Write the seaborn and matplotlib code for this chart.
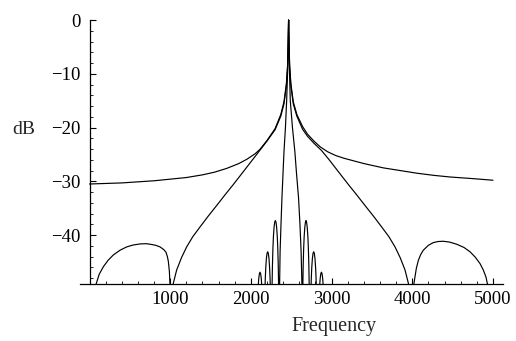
import numpy as np
import pandas as pd
import matplotlib
matplotlib.use("Agg")
import matplotlib.pyplot as plt
from matplotlib.ticker import FixedLocator
import seaborn as sns

# Broad resonance: flat skirts near -30 dB, sharp peak
freq_wide = [0, 200, 400, 600, 800, 1000, 1200, 1400, 1550, 1700, 1850, 1950,
             2050, 2110, 2200, 2300, 2370, 2410, 2440, 2455, 2462, 2467, 2472,
             2480, 2495, 2525, 2570, 2640, 2700, 2780, 2860, 2950, 3050, 3150,
             3250, 3400, 3640, 3850, 4060, 4270, 4470, 4750, 5000]
db_wide = [-30.5, -30.4, -30.3, -30.1, -29.9, -29.6, -29.3, -28.8, -28.3, -27.6,
           -26.7, -25.9, -24.9, -24.1, -22.4, -20.2, -17.6, -15.2, -11.8, -8.3,
           -4.2, 0.0, -4.2, -8.3, -11.8, -15.2, -17.6, -19.8, -21.2, -22.5, -23.6,
           -24.5, -25.2, -25.7, -26.1, -26.7, -27.5, -28.0, -28.5, -28.9, -29.2,
           -29.5, -29.8]

# Medium response: nulls near 1000 and 4000 Hz with one sidelobe on each side
freq_mid = [20, 50, 80, 120, 171, 230, 295, 380, 461, 540, 626, 700, 750, 820,
            874, 920, 948, 965, 977, 990, 1000, 1015, 1030, 1038, 1080, 1140,
            1204, 1280, 1369, 1470, 1576, 1680, 1782, 1860, 1927, 2020, 2113,
            2200, 2300, 2370, 2410, 2440, 2455, 2462, 2467, 2472, 2480, 2495,
            2525, 2570, 2640, 2700, 2780, 2877, 2970, 3063, 3130, 3208, 3310,
            3414, 3520, 3621, 3710, 3786, 3850, 3910, 3952, 3975, 3995, 4010,
            4033, 4050, 4075, 4105, 4137, 4200, 4260, 4320, 4384, 4460, 4550,
            4640, 4715, 4780, 4839, 4880, 4913, 4930, 4950, 4975, 5000]
db_mid = [-70, -55, -49.2, -47.3, -45.9, -44.7, -43.7, -42.8, -42.2, -41.85,
          -41.65, -41.6, -41.7, -41.9, -42.2, -42.7, -43.2, -44.0, -44.9, -46.8,
          -50, -70, -52, -49.0, -46.5, -44.2, -42.2, -40.3, -38.5, -36.5, -34.5,
          -32.5, -30.6, -29.1, -27.8, -26.0, -24.2, -22.5, -20.4, -17.9, -15.6,
          -12.2, -8.8, -4.4, 0.0, -4.4, -8.8, -12.2, -15.6, -17.9, -20.3, -21.6,
          -22.9, -24.3, -26.0, -27.8, -29.1, -30.6, -32.5, -34.5, -36.5, -38.5,
          -40.3, -42.2, -44.2, -46.5, -49.0, -70, -55, -50, -47.8, -46.2, -44.7,
          -43.6, -42.8, -41.9, -41.4, -41.2, -41.15, -41.3, -41.7, -42.3, -43.1,
          -44.1, -45.3, -46.5, -47.8, -49.0, -52, -60, -70]

# Narrow response: slim main lobe with decaying sidelobes
freq_narrow = [2065, 2083, 2089, 2097, 2105, 2113, 2121, 2129, 2137, 2143,
               2160, 2164, 2168, 2172, 2178, 2184, 2192, 2200, 2208, 2216, 2224,
               2232, 2238, 2244, 2248, 2252, 2255, 2259, 2263, 2267, 2273, 2279,
               2287, 2295, 2303, 2311, 2319, 2327, 2333, 2339, 2343, 2347, 2351,
               2353, 2356, 2362, 2373, 2385, 2398, 2410, 2428, 2443, 2455, 2462,
               2467, 2472, 2478, 2488, 2515, 2545, 2565, 2590, 2608, 2622, 2632,
               2635, 2637, 2640, 2644, 2648, 2654, 2660, 2668, 2676, 2683, 2690,
               2698, 2706, 2712, 2718, 2722, 2726, 2730, 2734, 2738, 2742, 2748,
               2754, 2762, 2770, 2778, 2786, 2794, 2802, 2808, 2814, 2818, 2822,
               2826, 2844, 2850, 2858, 2866, 2874, 2882, 2890, 2898, 2904, 2922]
db_narrow = [-75, -52, -49.9, -48.15, -47.2, -46.9, -47.2, -48.15, -49.9, -52,
             -75, -60.8, -54.8, -51.4, -48.2, -46.1, -44.35, -43.4, -43.1, -43.4,
             -44.35, -46.1, -48.2, -51.4, -54.8, -60.8, -75, -55, -49, -45.6,
             -42.4, -40.3, -38.55, -37.6, -37.3, -37.6, -38.55, -40.3, -42.4,
             -45.6, -49, -55, -75, -55, -49, -43, -38, -33, -28.5, -24.5, -20,
             -15, -9.5, -4.5, 0.0, -4.5, -9.5, -15, -20, -24.5, -28.5, -33, -38,
             -43, -49, -55, -75, -55, -49, -45.6, -42.4, -40.3, -38.55, -37.6,
             -37.3, -37.6, -38.55, -40.3, -42.4, -45.6, -49, -55, -75, -60.8,
             -54.8, -51.4, -48.2, -46.1, -44.35, -43.4, -43.1, -43.4, -44.35,
             -46.1, -48.2, -51.4, -54.8, -60.8, -75, -52, -49.9, -48.15, -47.2,
             -46.9, -47.2, -48.15, -49.9, -52, -75]

x_major = [1000, 2000, 3000, 4000, 5000]
x_labels = ["1000", "2000", "3000", "4000", "5000"]
y_major = [0, -10, -20, -30, -40]
y_labels = ["0", "\u221210", "\u221220", "\u221230", "\u221240"]

sns.set_style("ticks")
plt.rcParams["font.family"] = ["Liberation Serif", "DejaVu Serif"]

fig = plt.figure(figsize=(5.16, 3.41), dpi=100)
ax = fig.add_axes([0.1550, 0.16716, 0.8198, 0.7781])

curves = [(freq_wide, db_wide), (freq_mid, db_mid), (freq_narrow, db_narrow)]
for fx, fy in curves:
    df = pd.DataFrame({"Frequency": fx, "dB": fy})
    sns.lineplot(data=df, x="Frequency", y="dB", estimator=None, sort=False,
                 color="black", linewidth=0.85, ax=ax)

ax.set_xlim(-118, 5124)
ax.set_ylim(-49.1, 0.25)

for side in ("top", "right"):
    ax.spines[side].set_visible(False)
ax.spines["left"].set_position(("data", 0))
ax.spines["left"].set_bounds(-49.1, 0)
for side in ("left", "bottom"):
    ax.spines[side].set_linewidth(0.9)
    ax.spines[side].set_color("black")

ax.xaxis.set_major_locator(FixedLocator(x_major))
ax.set_xticklabels(x_labels)
ax.xaxis.set_minor_locator(FixedLocator([v for v in range(200, 5001, 200) if v % 1000]))
ax.yaxis.set_major_locator(FixedLocator(y_major))
ax.set_yticklabels(y_labels)
ax.yaxis.set_minor_locator(FixedLocator([v for v in range(-48, 0, 2) if v % 10]))

ax.tick_params(axis="both", which="major", direction="in", length=4.0, width=0.8,
               colors="black", labelsize=13.5)
ax.tick_params(axis="both", which="minor", direction="in", length=2.2, width=0.6,
               colors="black")
ax.tick_params(axis="x", which="major", pad=5)
ax.tick_params(axis="y", which="major", pad=6.5)

ax.set_xlabel("")
ax.set_ylabel("")
fig.text(24 / 516, 1 - 130 / 341, "dB", ha="center", va="center", fontsize=14)
fig.text(334 / 516, 1 - 327 / 341, "Frequency", ha="center", va="center", fontsize=14.5)

fig.savefig("out.png", dpi=100, facecolor="white")
